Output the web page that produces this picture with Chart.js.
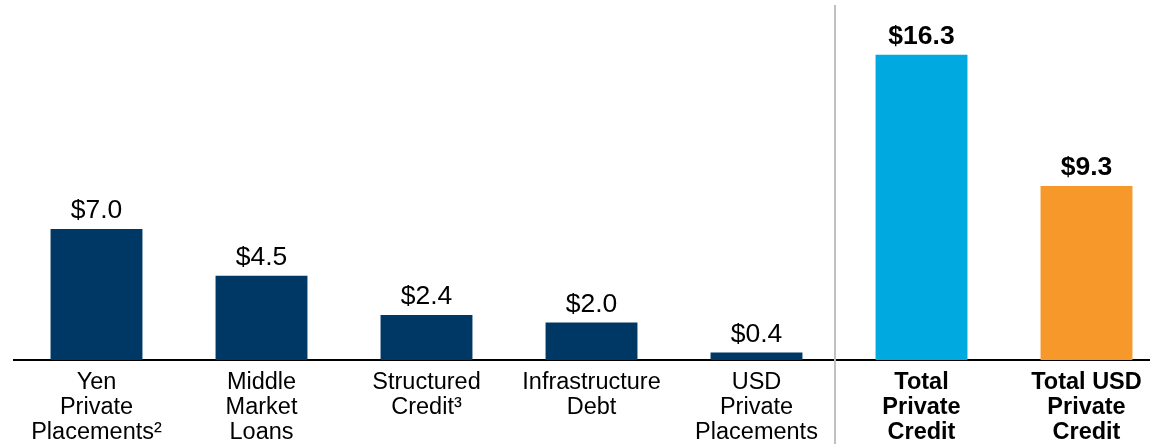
<html>
  <head>
    <script src="https://cdn.jsdelivr.net/npm/chart.js@4.4.0/dist/chart.umd.min.js"></script>
    <style>
      html, body {
        margin: 0;
        padding: 0;
        background: #ffffff;
        overflow: hidden;
      }
      #chartCtn {
        width: 1170px;
        height: 444px;
      }
    </style>
    <title>Private Credit</title>
  </head>
  <body>
    <div id="chartCtn">
      <canvas id="canvas"></canvas>
    </div>

    <script type="text/javascript">
      // categories (multi-line tick labels)
      var categories = [
        ["Yen", "Private", "Placements²"],
        ["Middle", "Market", "Loans"],
        ["Structured", "Credit³"],
        ["Infrastructure", "Debt"],
        ["USD", "Private", "Placements"],
        ["Total", "Private", "Credit"],
        ["Total USD", "Private", "Credit"]
      ];
      var values = [7.0, 4.5, 2.4, 2.0, 0.4, 16.3, 9.3];
      var valueLabels = ["$7.0", "$4.5", "$2.4", "$2.0", "$0.4", "$16.3", "$9.3"];
      var barColors = ["#003865", "#003865", "#003865", "#003865", "#003865", "#00a9e0", "#f7982a"];
      var boldIndex = [5, 6];

      var fontFamily = "'Liberation Sans', Arial, sans-serif";

      // value labels above bars
      var valueLabelPlugin = {
        id: "valueLabels",
        afterDatasetsDraw: function(chart){
          var ctx = chart.ctx;
          var meta = chart.getDatasetMeta(0);
          ctx.save();
          ctx.fillStyle = "#000000";
          ctx.textAlign = "center";
          ctx.textBaseline = "alphabetic";
          meta.data.forEach(function(bar, i){
            var bold = boldIndex.indexOf(i) >= 0;
            ctx.font = (bold ? "bold " : "") + "26.5px " + fontFamily;
            ctx.fillText(valueLabels[i], bar.x, bar.y - 11);
          });
          ctx.restore();
        }
      };

      // grey divider between the segments and the totals
      var dividerPlugin = {
        id: "divider",
        afterDraw: function(chart){
          var x = chart.scales.x;
          var pos = (x.getPixelForValue(4) + x.getPixelForValue(5)) / 2 - 4;
          var ctx = chart.ctx;
          ctx.save();
          ctx.strokeStyle = "#c0c0c0";
          ctx.lineWidth = 2;
          ctx.beginPath();
          ctx.moveTo(pos, 5);
          ctx.lineTo(pos, chart.height);
          ctx.stroke();
          ctx.restore();
        }
      };

      window.onload = function(){
        var ctx = document.getElementById("canvas");

        new Chart(ctx, {
          type: "bar",
          data: {
            labels: categories,
            datasets: [{
              data: values,
              backgroundColor: barColors,
              borderWidth: 0,
              categoryPercentage: 1.0,
              barPercentage: 0.557
            }]
          },
          options: {
            responsive: true,
            maintainAspectRatio: false,
            animation: false,
            layout: {
              padding: { top: 23, left: 14, right: 1, bottom: 0 }
            },
            plugins: {
              legend: { display: false },
              tooltip: { enabled: false }
            },
            scales: {
              y: {
                display: false,
                min: 0,
                max: 18
              },
              x: {
                grid: { display: false, drawTicks: false },
                border: { display: true, color: "#000000", width: 2 },
                afterFit: function(scale){
                  scale.height = 84;
                },
                ticks: {
                  color: "#000000",
                  padding: 10,
                  maxRotation: 0,
                  autoSkip: false,
                  font: function(context){
                    var bold = boldIndex.indexOf(context.index) >= 0;
                    return {
                      family: fontFamily,
                      size: 23.5,
                      weight: bold ? "bold" : "normal",
                      lineHeight: 1.064
                    };
                  }
                }
              }
            }
          },
          plugins: [valueLabelPlugin, dividerPlugin]
        });
      };
    </script>
  </body>
</html>
